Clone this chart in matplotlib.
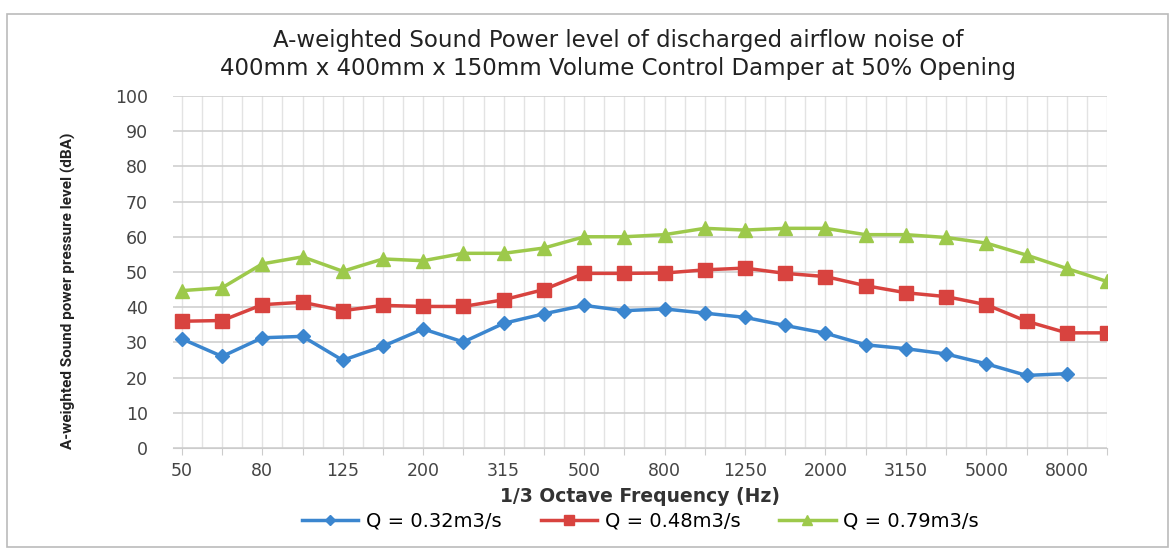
import matplotlib
matplotlib.use("Agg")
import matplotlib.pyplot as plt
from matplotlib.patches import Rectangle

freqs = ["50", "63", "80", "100", "125", "160", "200", "250", "315", "400", "500", "630",
         "800", "1000", "1250", "1600", "2000", "2500", "3150", "4000", "5000", "6300",
         "8000", "10000"]
q032 = [31.0, 26.0, 31.3, 31.7, 24.9, 28.9, 33.8, 30.1, 35.4, 38.1, 40.5, 39.0,
        39.5, 38.3, 37.1, 34.8, 32.6, 29.3, 28.2, 26.7, 23.9, 20.6, 21.1]
q048 = [36.0, 36.2, 40.7, 41.4, 39.0, 40.5, 40.2, 40.2, 42.1, 45.0, 49.6, 49.6,
        49.7, 50.6, 51.1, 49.6, 48.7, 46.1, 44.1, 43.0, 40.7, 36.0, 32.7, 32.7]
q079 = [44.7, 45.5, 52.3, 54.3, 50.2, 53.7, 53.2, 55.3, 55.3, 56.8, 60.0, 60.0,
        60.6, 62.4, 61.9, 62.4, 62.4, 60.6, 60.6, 59.8, 58.2, 54.8, 51.0, 47.3]
labels = ["Q = 0.32m3/s", "Q = 0.48m3/s", "Q = 0.79m3/s"]
yticks = list(range(0, 101, 10))

fig = plt.figure(figsize=(11.73, 5.53), dpi=100)
fig.patches.append(Rectangle((0.006, 0.01), 0.99, 0.965, transform=fig.transFigure,
                             fill=False, edgecolor="#bbbbbb", linewidth=1.2))
ax = fig.add_axes([0.1475, 0.19, 0.7962, 0.6364])

x = list(range(len(freqs)))
ax.plot(x[:len(q032)], q032, color="#3b86cf", marker="D", markersize=7, linewidth=2.5, label=labels[0])
ax.plot(x, q048, color="#d8433f", marker="s", markersize=10, linewidth=2.5, label=labels[1])
ax.plot(x, q079, color="#9dc94b", marker="^", markersize=10, linewidth=2.5, label=labels[2])

ax.set_xlim(-0.22, len(freqs) - 1)
ax.set_ylim(0, 100)
ax.set_yticks(yticks)
ax.set_xticks(x)
ax.set_xticklabels([f if i % 2 == 0 else "" for i, f in enumerate(freqs)])
ax.set_xticks([i + 0.5 for i in x[:-1]], minor=True)
ax.grid(axis="y", color="#cfcfcf", linewidth=1.2)
ax.grid(axis="x", which="both", color="#e3e3e3", linewidth=1.0)
for s in ["top", "right", "left"]:
    ax.spines[s].set_visible(False)
ax.spines["bottom"].set_color("#cccccc")
ax.tick_params(axis="y", length=0, labelsize=12.5, colors="#444444", pad=18)
ax.tick_params(axis="x", which="major", length=5, color="#cccccc", labelsize=12.5, colors="#444444", pad=5)
ax.tick_params(axis="x", which="minor", length=0)
ax.set_axisbelow(True)

fig.text(0.527, 0.9014, "A-weighted Sound Power level of discharged airflow noise of\n"
         "400mm x 400mm x 150mm Volume Control Damper at 50% Opening",
         ha="center", va="center", fontsize=16.5, family=["DejaVu Sans"],
         linespacing=1.3, color="#222222")
ax.set_xlabel("1/3 Octave Frequency (Hz)", fontsize=13.5, fontweight="bold", color="#333333", labelpad=5)
fig.text(0.058, 0.475, "A-weighted Sound power pressure level (dBA)", rotation=90,
         ha="center", va="center", fontsize=11, fontweight="bold",
         family=["Roboto", "DejaVu Sans"], color="#222222")

fig.legend(loc="center", bbox_to_anchor=(0.546, 0.057), ncol=3, frameon=False,
           fontsize=14, handlelength=2.9, columnspacing=2.0, handletextpad=0.4,
           markerscale=0.7)

fig.savefig("out.png", dpi=100)
